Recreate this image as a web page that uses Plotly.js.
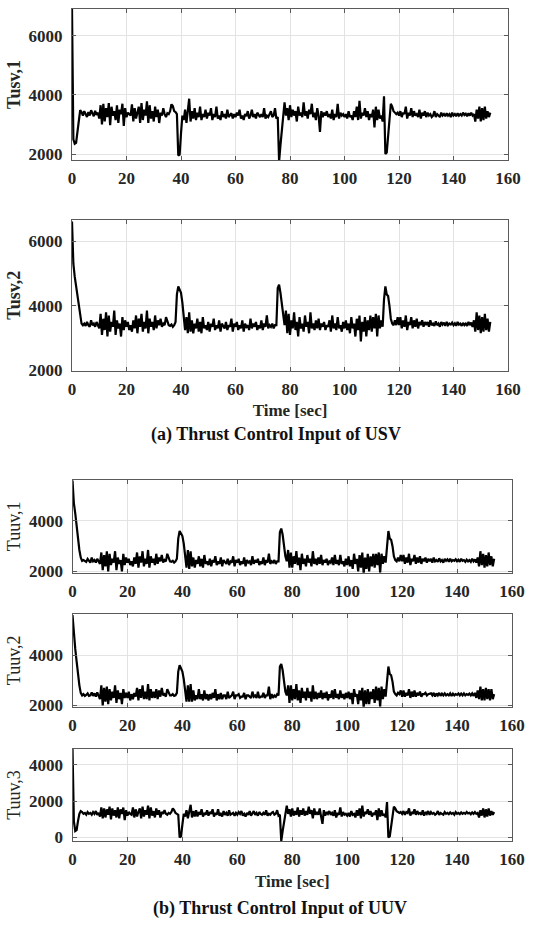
<!DOCTYPE html>
<html>
<head>
<meta charset="utf-8">
<script src="https://cdn.plot.ly/plotly-3.0.1.min.js"></script>
<style>html,body{margin:0;padding:0;background:#fff}#chart{width:551px;height:927px}</style>
</head>
<body>
<div id="chart"></div>
<script>
// sample spacing of the recorded signals (seconds)
const timeStart = 0;
const timeStep = 0.5;
const xTicks = [0, 20, 40, 60, 80, 100, 120, 140, 160];

const panelTitles = ["Tusv,1", "Tusv,2", "Tuuv,1", "Tuuv,2", "Tuuv,3"];
const groupTitles = ["(a) Thrust Control Input of USV", "(b) Thrust Control Input of UUV"];
const xTitle = "Time [sec]";

const Tusv1 = [
6900,2500,2350,2380,2750,3050,3480,3420,3300,3450,3350,3250,3420,3300,3480,3350,3280,3460,3320,3400,
3200,3650,3000,3700,3100,3550,3250,3720,2980,3600,3300,3450,3150,3650,3050,3500,3350,3700,2950,3550,
3250,3400,3350,3300,3680,3100,3550,3200,3400,3600,3050,3720,3150,3500,3300,3780,3050,3650,3200,3450,
3100,3600,3250,3500,3050,3400,3300,3550,3350,3250,3380,3350,3450,3680,3620,3450,3420,3350,1950,1980,
2700,3300,3150,3500,3050,3600,3870,3100,3450,3200,3550,3150,3400,3250,3600,3150,3350,3250,3500,3200,
3400,3300,3550,3150,3350,3250,3600,3200,3300,3150,3450,3250,3350,3200,3500,3250,3300,3380,3200,3350,
3250,3400,3300,3500,3200,3300,3150,3350,3280,3450,3200,3300,3500,3250,3350,3200,3400,3300,3250,3350,
3250,3550,3200,3300,3250,3350,3450,3250,3300,3550,3200,3250,1750,2300,2800,3450,3750,3300,3550,3150,
3650,3250,3500,3300,3450,3100,3600,3300,3400,3250,3750,3300,3450,3200,3500,3350,3700,3250,3400,3150,
3550,3300,2750,3450,3250,3400,3300,3450,3250,3350,3200,3500,3150,3350,3250,3700,3200,3400,3300,3350,
3250,3350,3200,3450,3250,3300,3150,3450,3250,3600,3150,3800,3200,3400,3300,3550,3250,3450,3150,3350,
3250,3500,2900,3600,3150,3500,3200,3300,3100,3950,2000,2050,2700,3250,3700,3600,3450,3400,3350,3400,
3300,3450,3250,3400,3350,3600,3200,3400,3300,3550,3250,3450,3300,3350,3250,3500,3200,3400,3300,3450,
3250,3400,3300,3350,3250,3300,3450,3250,3350,3300,3250,3400,3300,3350,3280,3380,3300,3350,3250,3400,
3300,3350,3280,3380,3300,3350,3300,3400,3320,3360,3280,3380,3300,3400,3300,3350,3100,3500,3200,3600,
3100,3550,3150,3600,3200,3450,3250,3400];

const Tusv2 = [
6600,5300,4900,4600,4450,4000,3700,3450,3400,3450,3380,3500,3400,3350,3550,3400,3450,3350,3500,3380,
3300,3750,3100,3600,3250,3800,3050,3700,3200,3500,3350,3850,3100,3550,3300,3450,3050,3650,3250,3550,
3350,3500,3250,3400,3200,3550,3300,3700,3150,3600,3350,3750,3200,3500,3300,3850,3150,3600,3350,3500,
3250,3700,3300,3550,3400,3600,3350,3450,3400,3650,3500,3400,3380,3420,3350,3400,3500,4350,4600,4500,
4400,4100,3700,3250,3650,3150,3800,3200,3550,3150,3450,3300,3600,3200,3500,3150,3650,3300,3400,3250,
3500,3200,3450,3350,3600,3250,3400,3300,3550,3200,3450,3350,3300,3500,3250,3400,3350,3600,3200,3450,
3350,3500,3250,3400,3300,3550,3200,3450,3350,3400,3250,3600,3300,3450,3350,3500,3250,3400,3300,3550,
3250,3450,3350,3700,3300,3400,3350,3450,3300,3400,3400,4550,4650,4400,4000,3600,3400,3850,3150,3750,
3100,3550,3300,3800,3250,3500,3050,3650,3300,3450,3200,3700,3350,3500,3150,3800,3300,3450,3250,3550,
3300,3600,3250,3450,3350,3500,3250,3400,3350,3550,3200,3700,3300,3450,3250,3650,3300,3400,3200,3500,
3300,3550,3250,3450,3150,3650,3300,3450,3050,3600,3250,3700,2900,3500,3200,3650,3050,3550,3250,3700,
3200,3650,3300,3750,3050,3700,3300,3550,3350,4200,4600,4350,4300,4000,3600,3450,3400,3550,3400,3650,
3400,3650,3300,3550,3350,3700,3250,3500,3400,3650,3300,3550,3350,3600,3300,3500,3400,3550,3350,3500,
3400,3500,3350,3550,3400,3450,3380,3520,3400,3450,3350,3500,3420,3480,3380,3500,3400,3450,3420,3480,
3400,3460,3380,3500,3420,3450,3380,3470,3400,3450,3380,3500,3400,3480,3350,3550,3200,3800,3250,3700,
3150,3650,3200,3750,3250,3600,3200,3500];

const Tuuv1 = [
5600,4700,4300,3800,3250,2850,2550,2420,2450,2400,2380,2500,2400,2350,2550,2400,2450,2350,2500,2380,
2300,2750,2050,2650,2200,2800,2000,2700,2250,2500,2350,2800,2050,2550,2300,2450,2000,2700,2250,2550,
2350,2500,2250,2400,2200,2550,2300,2750,2150,2600,2350,2800,2200,2500,2300,2850,2150,2600,2350,2500,
2250,2700,2300,2550,2400,2650,2350,2450,2400,2700,2500,2400,2380,2420,2350,2400,2500,3300,3600,3500,
3400,3100,2650,2150,2850,2100,2800,2200,2550,2150,2450,2300,2600,2200,2500,2150,2650,2300,2400,2250,
2500,2200,2450,2350,2600,2250,2400,2300,2550,2200,2450,2350,2300,2500,2250,2400,2350,2600,2200,2450,
2350,2500,2250,2400,2300,2550,2200,2450,2350,2400,2250,2600,2300,2450,2350,2500,2250,2400,2300,2550,
2250,2450,2350,2700,2300,2400,2350,2450,2300,2400,2400,3550,3700,3450,3000,2600,2400,2850,2150,2750,
2150,2600,2300,2800,2250,2550,2050,2700,2300,2500,2200,2650,2350,2500,2200,2800,2300,2500,2250,2550,
2300,2650,2250,2450,2350,2500,2250,2400,2350,2550,2250,2650,2300,2450,2250,2650,2300,2400,2200,2500,
2250,2600,2200,2450,2100,2700,2300,2500,2000,2650,2150,2750,1900,2550,2100,2700,2000,2600,2200,2700,
2150,2700,2250,2750,1950,2700,2300,2600,2350,3200,3600,3300,3250,3000,2600,2450,2400,2550,2400,2650,
2400,2650,2300,2550,2350,2700,2250,2500,2400,2650,2300,2550,2350,2600,2300,2500,2400,2550,2350,2500,
2400,2500,2350,2550,2400,2450,2380,2520,2400,2450,2350,2500,2420,2480,2380,2500,2400,2450,2420,2480,
2400,2460,2380,2500,2420,2450,2380,2470,2400,2450,2380,2500,2400,2480,2350,2550,2200,2800,2250,2700,
2150,2650,2200,2750,2250,2600,2200,2500];

const Tuuv2 = [
5600,4750,4250,3750,3200,2800,2500,2400,2450,2380,2420,2480,2380,2400,2520,2380,2480,2350,2520,2400,
2250,2800,2000,2700,2150,2750,2050,2650,2200,2550,2300,2800,2100,2600,2250,2500,2050,2650,2300,2500,
2300,2550,2200,2450,2250,2500,2350,2700,2200,2650,2300,2800,2250,2550,2250,2850,2200,2650,2300,2550,
2300,2650,2250,2600,2350,2700,2400,2450,2350,2650,2550,2400,2400,2450,2380,2400,2500,3350,3600,3450,
3350,3050,2600,2150,2800,2150,2850,2150,2600,2200,2400,2250,2650,2250,2450,2200,2600,2250,2450,2200,
2450,2250,2500,2300,2650,2200,2450,2250,2500,2250,2400,2400,2250,2550,2300,2350,2400,2550,2250,2400,
2400,2450,2300,2350,2350,2500,2250,2400,2400,2350,2300,2550,2350,2400,2300,2550,2300,2350,2350,2500,
2300,2400,2400,2750,2250,2450,2300,2400,2350,2450,2400,3550,3650,3400,2950,2550,2400,2800,2100,2800,
2200,2650,2250,2850,2200,2600,2100,2700,2300,2550,2200,2700,2300,2550,2150,2800,2250,2550,2250,2500,
2300,2600,2250,2500,2300,2550,2200,2450,2300,2600,2250,2650,2300,2450,2250,2600,2300,2450,2250,2500,
2300,2550,2250,2500,2050,2650,2350,2450,2050,2600,2200,2700,1900,2600,2050,2650,2050,2550,2250,2650,
2100,2750,2200,2700,1950,2750,2250,2650,2350,3150,3550,3250,3200,2950,2550,2450,2400,2500,2450,2600,
2350,2600,2350,2500,2400,2650,2300,2550,2350,2600,2350,2500,2400,2550,2350,2450,2450,2500,2400,2450,
2450,2480,2400,2500,2350,2480,2400,2500,2380,2470,2400,2480,2400,2450,2400,2480,2380,2470,2400,2450,
2420,2480,2400,2470,2400,2480,2400,2450,2420,2470,2400,2480,2380,2500,2300,2600,2250,2750,2200,2650,
2200,2700,2250,2650,2200,2650,2250,2450];

const Tuuv3 = [
4900,900,350,400,900,1300,1450,1400,1300,1350,1250,1400,1300,1350,1250,1400,1300,1450,1250,1350,
1150,1650,1050,1600,1100,1550,1250,1700,1000,1600,1200,1500,1100,1650,1050,1550,1300,1650,950,1500,
1200,1400,1300,1250,1650,1100,1550,1150,1400,1600,1050,1700,1150,1500,1250,1750,1050,1650,1200,1450,
1100,1600,1250,1500,1100,1400,1300,1500,1300,1250,1350,1300,1400,1600,1500,1350,1300,1250,0,50,
700,1300,1150,1500,1050,1550,1800,1100,1450,1150,1500,1150,1400,1250,1550,1150,1350,1250,1500,1200,
1400,1300,1550,1150,1350,1250,1550,1200,1300,1150,1450,1250,1350,1200,1500,1250,1300,1350,1200,1350,
1250,1400,1300,1450,1200,1300,1150,1350,1250,1450,1200,1300,1450,1250,1350,1200,1400,1300,1250,1350,
1250,1500,1200,1300,1250,1350,1400,1250,1300,1500,1200,1250,-200,350,800,1400,1750,1300,1550,1150,
1600,1200,1450,1250,1650,1150,1500,1250,1600,1200,1450,1250,1700,1300,1500,1050,1600,1250,1400,1250,
1600,1150,750,1500,1200,1400,1300,1450,1250,1350,1200,1500,1100,1350,1250,1650,1150,1400,1250,1300,
1200,1350,1150,1450,1250,1300,1100,1500,1200,1600,1050,1750,1150,1400,1300,1550,1250,1450,1150,1350,
1250,1500,950,1600,1150,1500,1200,1300,1100,1950,0,50,600,1200,1700,1600,1450,1400,1350,1400,
1300,1450,1250,1400,1350,1600,1200,1400,1300,1550,1250,1450,1300,1350,1250,1500,1200,1400,1300,1450,
1250,1400,1300,1350,1250,1300,1450,1250,1350,1300,1250,1400,1300,1350,1280,1380,1300,1350,1250,1400,
1300,1350,1280,1380,1300,1350,1300,1400,1320,1360,1280,1380,1300,1400,1300,1350,1100,1500,1200,1600,
1100,1550,1150,1600,1200,1450,1250,1400];

const yRanges = [[1800, 6900], [2000, 6650], [1950, 5620], [1950, 5640], [-200, 4880]];
const yTicks = [[2000, 4000, 6000], [2000, 4000, 6000], [2000, 4000], [2000, 4000], [0, 2000, 4000]];
const series = [Tusv1, Tusv2, Tuuv1, Tuuv2, Tuuv3];

// layout geometry (pixels in a 551x927 page)
const W = 551, H = 927;
const boxes = [
  {l: 72, r: 508, t: 9, b: 160},
  {l: 72, r: 508, t: 220, b: 370.5},
  {l: 72.5, r: 512, t: 480, b: 572.7},
  {l: 72.5, r: 512, t: 614, b: 706.7},
  {l: 72.5, r: 512, t: 749, b: 841}
];

const SERIF = "Liberation Serif";
const tickFont = {family: SERIF, size: 17, color: "#262626", weight: "bold"};
const data = [];
const layout = {
  width: W, height: H,
  margin: {l: 0, r: 0, t: 0, b: 0},
  paper_bgcolor: "#fff", plot_bgcolor: "#fff",
  font: {family: SERIF},
  showlegend: false,
  annotations: []
};

series.forEach((ys, i) => {
  const n = i + 1;
  const xa = "x" + (n === 1 ? "" : n), ya = "y" + (n === 1 ? "" : n);
  data.push({
    type: "scatter", mode: "lines", x0: timeStart, dx: timeStep, y: ys,
    xaxis: xa, yaxis: ya,
    line: {color: "#000", width: 2.2}, cliponaxis: true
  });
  const bx = boxes[i];
  const xKey = "xaxis" + (n === 1 ? "" : n), yKey = "yaxis" + (n === 1 ? "" : n);
  layout[xKey] = {
    domain: [bx.l / W, bx.r / W], anchor: ya,
    range: [0, 160], tickvals: xTicks, ticktext: xTicks.map(String),
    showgrid: true, gridcolor: "#e3e3e3", gridwidth: 1,
    showline: true, linecolor: "#5a5a5a", linewidth: 1, mirror: "ticks",
    ticks: "inside", ticklen: 4, tickcolor: "#5a5a5a",
    tickfont: tickFont, ticklabelstandoff: 3, zeroline: false, fixedrange: true
  };
  if (i === 1 || i === 4) {
    layout[xKey].title = {text: xTitle, font: {family: SERIF, size: 17, color: "#262626", weight: "bold"}, standoff: 6};
  }
  layout[yKey] = {
    domain: [1 - bx.b / H, 1 - bx.t / H], anchor: xa,
    range: yRanges[i], tickvals: yTicks[i], ticktext: yTicks[i].map(String),
    showgrid: true, gridcolor: "#e3e3e3", gridwidth: 1,
    showline: true, linecolor: "#5a5a5a", linewidth: 1, mirror: "ticks",
    ticks: "inside", ticklen: 4, tickcolor: "#5a5a5a",
    tickfont: tickFont, ticklabelstandoff: 5, zeroline: false, fixedrange: true,
    title: {text: panelTitles[i], font: {family: SERIF, size: 18, color: "#262626", weight: i < 2 ? "bold" : "normal"}, standoff: 3}
  };
});

layout.annotations.push({
  text: groupTitles[0], xref: "paper", yref: "paper", x: 276 / W, y: 1 - 434 / H,
  xanchor: "center", yanchor: "middle", showarrow: false,
  font: {family: SERIF, size: 18, color: "#111", weight: "bold"}
});
layout.annotations.push({
  text: groupTitles[1], xref: "paper", yref: "paper", x: 280 / W, y: 1 - 908 / H,
  xanchor: "center", yanchor: "middle", showarrow: false,
  font: {family: SERIF, size: 18, color: "#111", weight: "bold"}
});

Plotly.newPlot("chart", data, layout, {staticPlot: true, displayModeBar: false});
</script>
</body>
</html>
